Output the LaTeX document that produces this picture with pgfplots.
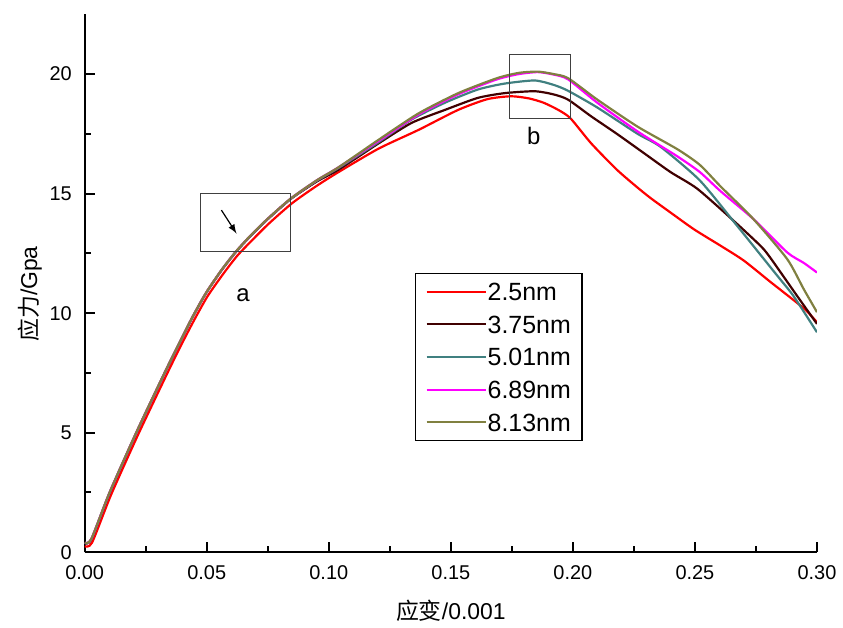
\documentclass[border=0pt]{standalone}
\usepackage{fontspec}
\setmainfont{Liberation Sans}
\newfontfamily\cjk{Noto Sans CJK SC}
\usepackage{pgfplots}
\pgfplotsset{compat=1.18}

\definecolor{cRed}{RGB}{255,0,0}
\definecolor{cBrown}{RGB}{64,0,0}
\definecolor{cTeal}{RGB}{64,128,128}
\definecolor{cMag}{RGB}{255,0,255}
\definecolor{cOlive}{RGB}{128,128,64}

\begin{document}
\begin{tikzpicture}
\begin{axis}[
  scale only axis, width=367.5pt, height=270pt,
  xmin=0, xmax=0.30, ymin=0, ymax=22.5,
  axis x line*=bottom, axis y line*=left,
  axis line style={line width=1pt, black},
  xtick={0,0.05,...,0.30}, ytick={0,5,10,15,20},
  minor x tick num=1, minor y tick num=1,
  tick align=inside,
  major tick length=5pt, minor tick length=3pt,
  tick style={line width=1pt, black},
  xticklabel style={/pgf/number format/fixed, /pgf/number format/fixed zerofill,
                    /pgf/number format/precision=2, yshift=-3pt},
  yticklabel style={xshift=-3pt},
  /pgf/number format/assume math mode=true,
  tick label style={font=\fontsize{10}{12}\selectfont},
  xlabel={{\cjk 应变}/0.001},
  ylabel={{\cjk 应力}/Gpa},
  label style={font=\fontsize{11.5}{14}\selectfont},
  xlabel style={at={(axis description cs:0.5,-0.108)}, anchor=center},
  ylabel style={at={(axis description cs:-0.075,0.48)}, anchor=center},
  legend style={at={(axis description cs:0.4513,0.519)}, anchor=north west,
    draw=black, line width=0.6pt, fill=white,
    font=\fontsize{12.5}{14}\selectfont,
    inner xsep=5pt, inner ysep=4pt, row sep=6.3pt,
    nodes={inner sep=0.6pt, text height=8.9pt, text depth=0pt, anchor=west},
    cells={anchor=west}},
  legend image code/.code={\draw[#1, line width=1pt] (0pt,0pt) -- (29.5pt,0pt);},
  every axis plot/.append style={line width=1.1pt, line join=round, smooth, tension=0.4},
]
\addplot[cRed] coordinates {
(0.000,0.25) (0.0030,0.40) (0.0108,2.4) (0.0218,4.9) (0.0333,7.37) (0.0391,8.58)
(0.0448,9.7) (0.0503,10.7) (0.0566,11.62) (0.0625,12.4) (0.0686,13.05) (0.0755,13.75)
(0.0850,14.6) (0.0950,15.32) (0.1040,15.9)
(0.1204,16.88) (0.1367,17.66) (0.1530,18.5) (0.1650,18.95) (0.1747,19.07) (0.1820,18.98)
(0.1880,18.8) (0.1940,18.5) (0.1990,18.15) (0.2075,17.1) (0.2180,16.0) (0.2265,15.25)
(0.2320,14.8) (0.2401,14.2) (0.2497,13.5) (0.2605,12.82) (0.2700,12.2) (0.2810,11.3)
(0.2946,10.2) (0.3000,9.62)};
\addlegendentry{2.5nm}
\addplot[cBrown] coordinates {
(0.000,0.38) (0.0027,0.53) (0.0102,2.48) (0.0211,4.98) (0.0327,7.48) (0.0385,8.68)
(0.0442,9.83) (0.0497,10.83) (0.0560,11.78) (0.0619,12.55) (0.0680,13.23) (0.0750,13.93)
(0.0845,14.78) (0.0950,15.5) (0.1040,16.0)
(0.1204,17.1) (0.1340,17.96) (0.1476,18.5) (0.1610,19.0) (0.1720,19.2) (0.1843,19.28)
(0.1920,19.15) (0.1980,18.93) (0.2075,18.23) (0.2180,17.5) (0.2290,16.7) (0.2400,15.9)
(0.2510,15.2) (0.2660,13.85) (0.2770,12.8) (0.2810,12.3) (0.2918,10.73) (0.3000,9.55)};
\addlegendentry{3.75nm}
\addplot[cTeal] coordinates {
(0.000,0.39) (0.0027,0.54) (0.0102,2.49) (0.0211,4.99) (0.0327,7.49) (0.0385,8.69)
(0.0442,9.84) (0.0497,10.84) (0.0560,11.79) (0.0619,12.56) (0.0680,13.24) (0.0750,13.94)
(0.0845,14.79) (0.0950,15.53) (0.1040,16.07)
(0.1204,17.15) (0.1340,18.1) (0.1476,18.8) (0.1610,19.35) (0.1720,19.6) (0.1843,19.73)
(0.1920,19.55) (0.1980,19.3) (0.2100,18.6) (0.2265,17.5) (0.2360,16.95) (0.2520,15.55)
(0.2673,13.65) (0.2837,11.57) (0.2905,10.7) (0.3000,9.2)};
\addlegendentry{5.01nm}
\addplot[cMag] coordinates {
(0.000,0.40) (0.0027,0.55) (0.0102,2.5) (0.0211,5.0) (0.0327,7.5) (0.0385,8.7)
(0.0442,9.85) (0.0497,10.85) (0.0560,11.8) (0.0619,12.57) (0.0680,13.25) (0.0750,13.95)
(0.0845,14.8) (0.0950,15.55) (0.1040,16.1)
(0.1204,17.2) (0.1367,18.3) (0.1530,19.15) (0.1690,19.78) (0.1780,20.0) (0.1857,20.08)
(0.1920,19.98) (0.1980,19.78) (0.2100,18.8) (0.2265,17.6) (0.2429,16.55) (0.2520,15.9)
(0.2605,15.1) (0.2740,13.93) (0.2878,12.54) (0.2946,12.1) (0.3000,11.7)};
\addlegendentry{6.89nm}
\addplot[cOlive] coordinates {
(0.000,0.40) (0.0027,0.55) (0.0102,2.5) (0.0211,5.0) (0.0327,7.5) (0.0385,8.7)
(0.0442,9.85) (0.0497,10.85) (0.0560,11.8) (0.0619,12.57) (0.0680,13.25) (0.0750,13.95)
(0.0845,14.8) (0.0950,15.55) (0.1040,16.1)
(0.1204,17.25) (0.1367,18.35) (0.1530,19.2) (0.1690,19.83) (0.1780,20.05) (0.1857,20.1)
(0.1920,20.0) (0.1980,19.83) (0.2100,18.93) (0.2265,17.8) (0.2429,16.85) (0.2520,16.2)
(0.2605,15.3) (0.2740,13.93) (0.2878,12.26) (0.2946,11.0) (0.3000,10.04)};
\addlegendentry{8.13nm}

% boxes a and b
\draw[black!75, line width=0.6pt] (axis cs:0.0476,12.57) rectangle (axis cs:0.0844,15.01);
\draw[black!75, line width=0.6pt] (axis cs:0.1740,18.15) rectangle (axis cs:0.1989,20.83);
\draw[-latex, line width=0.6pt] (axis cs:0.0560,14.31) -- (axis cs:0.0622,13.33);
\node[font=\fontsize{12}{14}\selectfont] at (axis cs:0.0649,10.76) {a};
\node[font=\fontsize{12}{14}\selectfont] at (axis cs:0.1840,17.43) {b};
\end{axis}
\path[use as bounding box] (-42.5pt,-35.85pt) rectangle (379pt,277.15pt);
\end{tikzpicture}
\end{document}
